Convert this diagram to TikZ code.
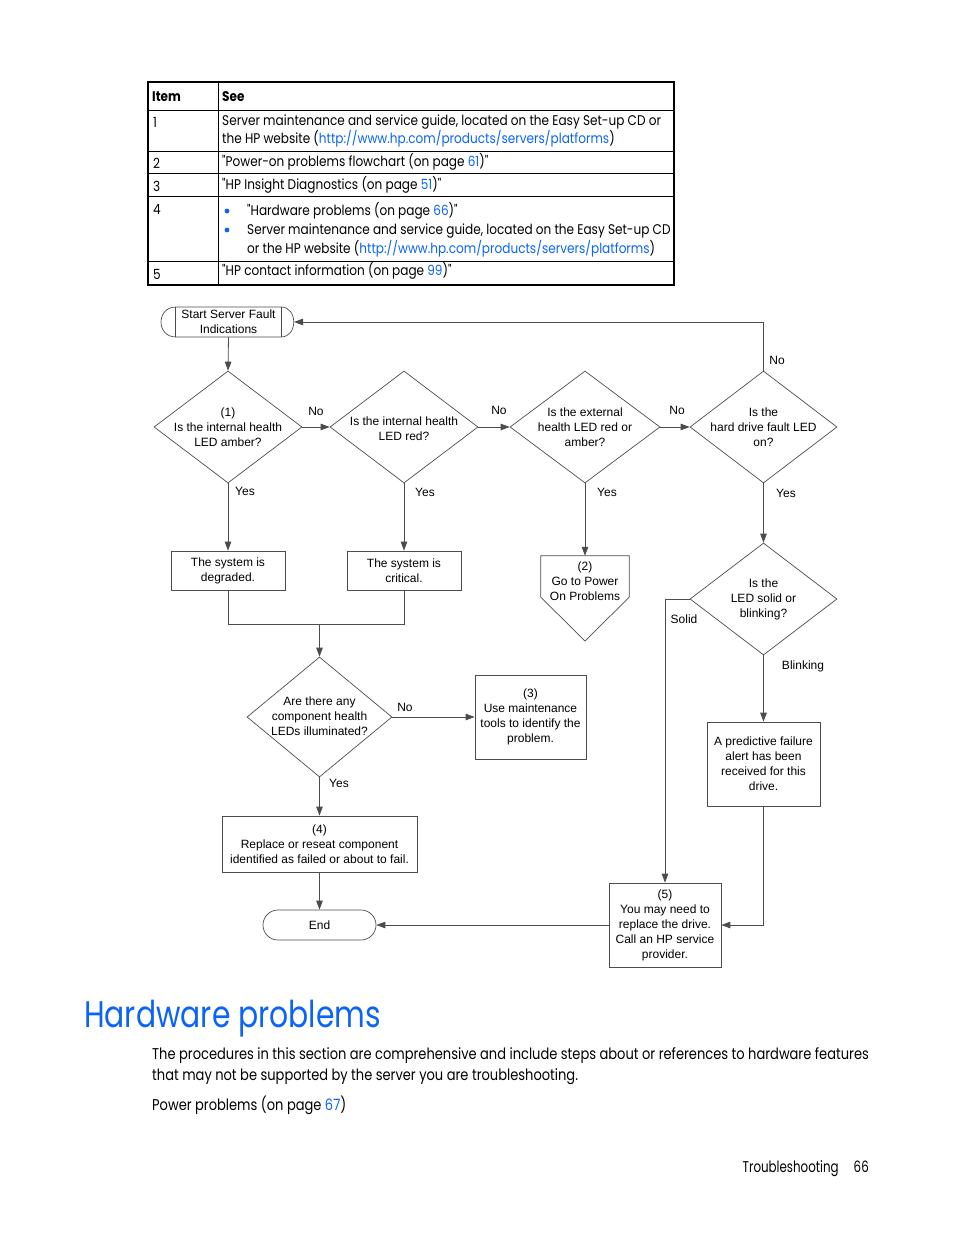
\documentclass[tikz,border=0pt]{standalone}
\usepackage{fontspec}
\setmainfont{Liberation Sans}
\newfontfamily\fcfont{Liberation Sans}
\newfontfamily\tbfont[FakeStretch=0.862]{Poppins}
\newfontfamily\bdfont[FakeStretch=0.835]{Poppins}
\newfontfamily\hdfont[FakeStretch=0.806]{Poppins}
\newfontfamily\ftfont[FakeStretch=0.76]{Poppins}
\usetikzlibrary{arrows.meta,shapes.geometric}
\definecolor{hpblue}{RGB}{10,100,245}
\definecolor{fline}{gray}{0.3}
\newcommand{\lk}[1]{\textcolor{hpblue}{#1}}
\begin{document}
\begin{tikzpicture}[x=1pt,y=-1pt,
  fc/.style={font=\fcfont\fontsize{12}{15}\selectfont, align=center, inner sep=0},
  lbl/.style={font=\fcfont\fontsize{12}{15}\selectfont, inner sep=0},
  fbox/.style={draw=fline, line width=0.7pt, inner sep=0},
  dia/.style={draw=fline, line width=0.7pt, diamond, inner sep=0},
  conn/.style={draw=fline, line width=0.8pt},
  arr/.style={conn, -{Triangle[length=9pt,width=6.5pt]}},
  tb/.style={font=\tbfont\fontsize{14}{18}\selectfont, anchor=base west, inner sep=0},
  body/.style={font=\bdfont\fontsize{15.6}{21}\selectfont, anchor=base west, inner sep=0},
]
\useasboundingbox (0,0) rectangle (954,1235);

% ---------------- table ----------------
\draw[line width=0.8pt] (148,110) -- (674,110) (148,151) -- (674,151) (148,173) -- (674,173)
  (148,196) -- (674,196) (148,261) -- (674,261) (218,82) -- (218,285);
\draw[line width=1.3pt] (148,82) rectangle (674,285);
\node[tb, font=\tbfont\bfseries\fontsize{14}{18}\selectfont] (hItem) at (152,101) {Item};
\node[tb, font=\tbfont\bfseries\fontsize{14}{18}\selectfont] (hSee) at (222,101) {See};
\node[tb] (n1) at (153,127) {1};
\node[tb] (n2) at (153,168) {2};
\node[tb] (n3) at (153,191) {3};
\node[tb] (n4) at (153,214) {4};
\node[tb] (n5) at (153,279) {5};
\node[tb] (r1a) at (222,125) {Server maintenance and service guide, located on the Easy Set-up CD or};
\node[tb] (r1b) at (222,143) {the HP website (\lk{http://www.hp.com/products/servers/platforms})};
\node[tb] (r2) at (222,166) {"Power-on problems flowchart (on page \lk{61})"};
\node[tb] (r3) at (222,189) {"HP Insight Diagnostics (on page \lk{51})"};
\fill[hpblue] (227,211) circle (2.4);
\fill[hpblue] (227,230) circle (2.4);
\node[tb] (r4a) at (247,215) {"Hardware problems (on page \lk{66})"};
\node[tb] (r4b) at (247,234) {Server maintenance and service guide, located on the Easy Set-up CD};
\node[tb] (r4c) at (247,253) {or the HP website (\lk{http://www.hp.com/products/servers/platforms})};
\node[tb] (r5) at (222,275) {"HP contact information (on page \lk{99})"};

% ---------------- flowchart ----------------
% start terminator
\node[fc, minimum width=105, minimum height=30] (start) at (228.5,322) {Start Server Fault\\Indications};
\draw[fline, line width=0.7pt] (176,307) -- (281,307) .. controls (298,307) and (298,337) .. (281,337)
  -- (176,337) .. controls (156,337) and (156,307) .. (176,307);
\draw[fline, line width=0.7pt] (start.north west) -- (start.south west) (start.north east) -- (start.south east);
\coordinate (starte) at (294,322);

% decisions
\node[dia, minimum width=148, minimum height=112] (d1) at (228,427) {};
\node[fc] at (d1) {(1)\\Is the internal health\\LED amber?};
\node[dia, minimum width=148, minimum height=112] (d2) at (404,427) {};
\node[fc] at (404,428.5) {Is the internal health\\LED red?};
\node[dia, minimum width=150, minimum height=112] (d3) at (585,427) {};
\node[fc] at (d3) {Is the external\\health LED red or\\amber?};
\node[dia, minimum width=147, minimum height=112] (d4) at (763.5,427) {};
\node[fc] at (d4) {Is the\\hard drive fault LED\\on?};
\node[dia, minimum width=147, minimum height=112] (d5) at (763.5,599) {};
\node[fc] at (d5) {Is the\\LED solid or\\blinking?};
\node[dia, minimum width=145, minimum height=120] (d6) at (319.5,717) {};
\node[fc] at (319.5,716) {Are there any\\component health\\LEDs illuminated?};

% boxes
\node[fbox, fc, minimum width=114, minimum height=39] (deg) at (228,570.5) {The system is\\degraded.};
\node[fbox, fc, minimum width=114, minimum height=39] (crit) at (404,570.5) {The system is\\critical.};
\node[minimum width=88, minimum height=41, inner sep=0] (p2) at (585,576.5) {};
\draw[fline, line width=0.7pt] (p2.north west) -- (p2.north east) -- (p2.south east) -- (585,641) -- (p2.south west) -- cycle;
\node[fc] at (585,581) {(2)\\Go to Power\\On Problems};
\node[fbox, fc, minimum width=111, minimum height=84] (b3) at (530.5,717) {(3)\\Use maintenance\\tools to identify the\\problem.};
\node[fbox, fc, minimum width=195, minimum height=56] (b4) at (319.5,844) {(4)\\Replace or reseat component\\identified as failed or about to fail.};
\node[fbox, fc, minimum width=113, minimum height=84] (pred) at (763.5,764) {A predictive failure\\alert has been\\received for this\\drive.};
\node[fbox, fc, minimum width=112, minimum height=84] (b5) at (665,925) {(5)\\You may need to\\replace the drive.\\Call an HP service\\provider.};
\node[fc, draw=fline, line width=0.7pt, rounded corners=15pt, minimum width=113, minimum height=30] (end) at (319.5,925) {End};

% connectors
\draw[arr] (start.south) -- (d1.north);
\draw[arr] (d1.east) -- (d2.west);
\draw[arr] (d2.east) -- (d3.west);
\draw[arr] (d3.east) -- (d4.west);
\draw[arr] (d4.north) |- (starte);
\draw[arr] (d1.south) -- (deg.north);
\draw[arr] (d2.south) -- (crit.north);
\draw[arr] (d3.south) -- (p2.north);
\draw[arr] (d4.south) -- (d5.north);
\coordinate (m) at (319.5,624);
\draw[conn] (deg.south) |- (m) -| (crit.south);
\draw[arr] (m) -- (d6.north);
\draw[arr] (d6.east) -- (b3.west);
\draw[arr] (d6.south) -- (b4.north);
\draw[arr] (b4.south) -- (end.north);
\draw[arr] (d5.west) -| (b5.north);
\draw[arr] (d5.south) -- (pred.north);
\draw[arr] (pred.south) |- (b5.east);
\draw[arr] (b5.west) -- (end.east);

% connector labels
\node[lbl] (lno1) at (316,411) {No};
\node[lbl] (lno2) at (499,410) {No};
\node[lbl] (lno3) at (677,410) {No};
\node[lbl] (lno4) at (777,360) {No};
\node[lbl] (ly1) at (245,491) {Yes};
\node[lbl] (ly2) at (425,492) {Yes};
\node[lbl] (ly3) at (607,492) {Yes};
\node[lbl] (ly4) at (786,493) {Yes};
\node[lbl] (lsolid) at (684,619) {Solid};
\node[lbl] (lblink) at (803,666) {Blinking};
\node[lbl] (lno5) at (405,707) {No};
\node[lbl] (ly5) at (339,783) {Yes};

% ---------------- page text ----------------
\node[anchor=base west, inner sep=0, text=hpblue, font=\hdfont\fontsize{37}{40}\selectfont] (head) at (84,1027) {Hardware problems};
\node[body] (p1) at (152,1059) {The procedures in this section are comprehensive and include steps about or references to hardware features};
\node[body] (p2t) at (152,1080) {that may not be supported by the server you are troubleshooting.};
\node[body] (p3) at (152,1110) {Power problems (on page \lk{67})};
\node[body, anchor=base east, font=\ftfont\fontsize{15.6}{21}\selectfont] (foot) at (869,1172) {Troubleshooting\hspace{15pt}66};
\end{tikzpicture}
\end{document}
